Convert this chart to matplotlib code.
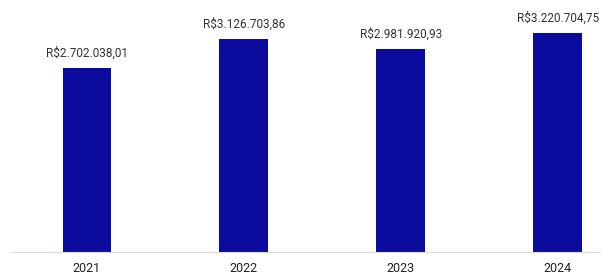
import matplotlib.pyplot as plt

plt.rcParams['font.family'] = ['Roboto', 'DejaVu Sans']

years = ['2021', '2022', '2023', '2024']
values = [2702038.01, 3126703.86, 2981920.93, 3220704.75]
labels = ['R$2.702.038,01', 'R$3.126.703,86', 'R$2.981.920,93', 'R$3.220.704,75']

fig = plt.figure(figsize=(6.09, 2.75), dpi=100)
ax = fig.add_axes([10 / 609, 23 / 275, 590 / 609, 247 / 275])

x = range(len(years))
bars = ax.bar(x, values, width=0.31, color='#0b0b9e', zorder=2)

for b, lab in zip(bars, labels):
    ax.annotate(lab, (b.get_x() + b.get_width() / 2, b.get_height()),
                xytext=(0, 6), textcoords='offset points',
                ha='center', va='bottom', fontsize=8.5, color='#333333')

ax.set_xlim(-0.49, 3.27)
ax.set_ylim(0, 3.63e6)
ax.set_xticks(list(x))
ax.set_xticklabels(years, fontsize=9, color='#222222')
ax.tick_params(axis='x', length=0, pad=7)
ax.set_yticks([])
for s in ['top', 'right', 'left']:
    ax.spines[s].set_visible(False)
ax.spines['bottom'].set_color('#dddddd')
ax.spines['bottom'].set_linewidth(0.8)

fig.savefig('out.png', dpi=100)
